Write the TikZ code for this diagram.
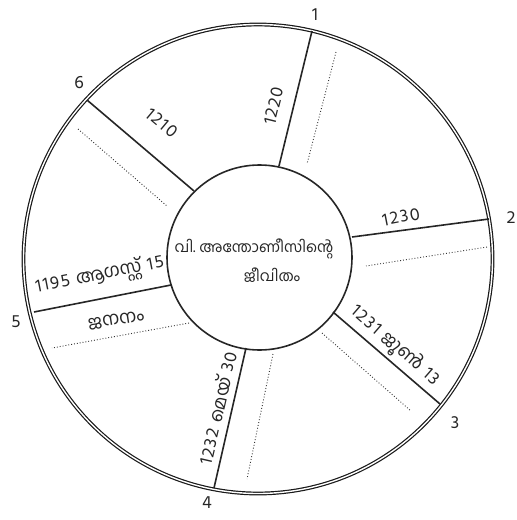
\documentclass[tikz,border=0pt]{standalone}
\usepackage{fontspec}
\setmainfont[Script=Malayalam]{Hind Kochi}
\newfontfamily\ml[Script=Malayalam]{Hind Kochi}
\newfontfamily\dgfont[LetterSpace=9]{Hind Kochi}
\newcommand{\dg}[1]{{\dgfont #1}}
\newcommand{\wsp}{\hspace{0.35em}}
\begin{document}
\begin{tikzpicture}[x=1pt,y=-1pt,
  spoke/.style={line width=1.6pt,black!85},
  dotline/.style={line width=0.9pt,dotted,black!80},
  lbl/.style={font=\ml\fontsize{18}{20}\selectfont,inner sep=0pt,text=black!85},
  num/.style={font=\fontsize{18}{20}\selectfont,inner sep=0pt,text=black!85},
  ctext/.style={font=\ml\fontsize{15}{17}\selectfont,inner sep=0pt,text=black!85}]
\useasboundingbox (0,0) rectangle (517,520);
% outer double circle
\node[circle,draw=black!90,line width=3.8pt,minimum size=469pt,inner sep=0pt] (outerA) at (258,259) {};
\node[circle,draw=white,line width=1.4pt,minimum size=469pt,inner sep=0pt] (outerB) at (258,259) {};
% inner circle
\node[circle,draw=black!85,line width=1.6pt,minimum size=185pt,inner sep=0pt] (inner) at (259.5,257.5) {};
% spoke endpoints
\coordinate (i1) at (279,166); \coordinate (o1) at (312,31);
\coordinate (i2) at (352,237); \coordinate (o2) at (489,219);
\coordinate (i3) at (333,312); \coordinate (o3) at (440,404);
\coordinate (i4) at (246,348); \coordinate (o4) at (214,488);
\coordinate (i5) at (171,285); \coordinate (o5) at (34,312);
\coordinate (i6) at (194,191); \coordinate (o6) at (87,100);
\foreach \k in {1,...,6} {\draw[spoke] (i\k) -- (o\k);}
% dotted lines
\coordinate (d1a) at (336,52);  \coordinate (d1b) at (307,164);
\coordinate (d2a) at (487,247); \coordinate (d2b) at (366,266);
\coordinate (d3a) at (322,333); \coordinate (d3b) at (411,411);
\coordinate (d4a) at (273,354); \coordinate (d4b) at (247,479);
\coordinate (d5a) at (189,323); \coordinate (d5b) at (52,348);
\coordinate (d6a) at (78,129);  \coordinate (d6b) at (167,206);
\foreach \k in {1,...,6} {\draw[dotline] (d\k a) -- (d\k b);}
% number labels
\node[num] (n1) at (315,15) {1};
\node[num] (n2) at (511,218) {2};
\node[num] (n3) at (455,423) {3};
\node[num] (n4) at (207,503) {4};
\node[num] (n5) at (16,322) {5};
\node[num] (n6) at (79,83) {6};
% spoke labels
\node[lbl,rotate=76] (l1) at (274,106) {\dg{1220}};
\node[lbl,rotate=-40] (l6) at (162,123) {\dg{1210}};
\node[lbl,rotate=11] (l2) at (401,217) {\dg{1230}};
\node[lbl,rotate=-41] (l3) at (395,346) {\dg{1231}\wsp ജൂൺ\wsp\dg{13}};
\node[lbl,rotate=77] (l4) at (217,408) {\dg{1232}\wsp മെയ്\wsp\dg{30}};
\node[lbl,rotate=11] (l5) at (100,276) {\dg{1195}\wsp ആഗസ്റ്റ്\wsp\dg{15}};
\node[lbl,rotate=9] (l5b) at (116,320) {ജനനം};
% centre text
\node[ctext] (c1) at (254,249) {വി.\hspace{0.25em}അന്തോണീസിന്റെ};
\node[ctext] (c2) at (272,275) {ജീവിതം};
\end{tikzpicture}
\end{document}
